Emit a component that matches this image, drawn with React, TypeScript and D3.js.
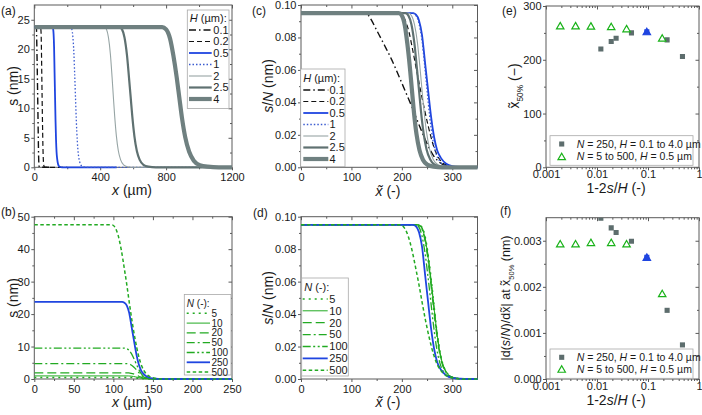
import * as d3 from "d3";
import { useEffect, useRef } from "react";

type Pt = [number, number];

// ---- profiles s/N (nm) vs x~ (-), H series at N = 250 (panels a, c)
const hLabels = ["0.1", "0.2", "0.5", "1", "2", "2.5", "4"];
const hValues = [0.1, 0.2, 0.5, 1, 2, 2.5, 4];
const profH01: Pt[] = [[0, 0.095], [128, 0.095], [134, 0.0935], [140, 0.0905], [150, 0.0845], [165, 0.0755], [180, 0.0662], [195, 0.0555], [206, 0.0475], [220, 0.0372], [235, 0.0255], [250, 0.0145], [262, 0.0075], [275, 0.003], [290, 0.0009], [305, 0.0002], [325, 0], [1000, 0]];
const profH02: Pt[] = [[0, 0.095], [190, 0.095], [198, 0.094], [206, 0.091], [214, 0.0835], [222, 0.0715], [230, 0.0585], [237, 0.0475], [245, 0.0355], [253, 0.0245], [261, 0.015], [270, 0.0075], [280, 0.003], [292, 0.001], [305, 0.0002], [320, 0], [1000, 0]];
const profH05: Pt[] = [[0, 0.095], [222, 0.095], [228, 0.094], [234, 0.0905], [240, 0.0815], [246, 0.0645], [252, 0.0475], [258, 0.031], [264, 0.0185], [270, 0.0105], [278, 0.0055], [288, 0.0022], [300, 0.0007], [315, 0.0002], [335, 0], [1000, 0]];
const profH1: Pt[] = [[0, 0.095], [222, 0.095], [228, 0.0935], [234, 0.0885], [240, 0.078], [245, 0.0635], [250, 0.0475], [255, 0.0318], [261, 0.0178], [267, 0.0092], [275, 0.0038], [285, 0.0012], [298, 0.0003], [315, 0], [1000, 0]];
const profH2: Pt[] = [[0, 0.095], [213, 0.095], [219, 0.0935], [225, 0.088], [231, 0.0765], [236, 0.0612], [240, 0.0475], [244, 0.0345], [249, 0.0215], [255, 0.0112], [262, 0.005], [271, 0.0017], [283, 0.0004], [300, 0], [1000, 0]];
const profH25: Pt[] = [[0, 0.095], [207, 0.095], [213, 0.0935], [219, 0.088], [225, 0.076], [230, 0.0605], [234, 0.0475], [238, 0.0343], [243, 0.0212], [249, 0.011], [256, 0.005], [265, 0.0016], [277, 0.0004], [295, 0], [1000, 0]];
const profH4: Pt[] = [[0, 0.095], [194, 0.095], [200, 0.0935], [206, 0.0872], [211, 0.0758], [216, 0.0612], [220, 0.0475], [224, 0.0338], [229, 0.0205], [235, 0.0105], [242, 0.0045], [251, 0.0015], [263, 0.0004], [280, 0], [1000, 0]];
const hProfiles = [profH01, profH02, profH05, profH1, profH2, profH25, profH4];

// ---- N series at H = 0.5 um (panels b, d)
const nLabels = ["5", "10", "20", "50", "100", "250", "500"];
const nValues = [5, 10, 20, 50, 100, 250, 500];
const profN5: Pt[] = [[0, 0.095], [233, 0.095], [240, 0.0935], [246, 0.088], [252, 0.077], [258, 0.062], [263, 0.0475], [268, 0.033], [274, 0.0195], [280, 0.0105], [288, 0.0045], [298, 0.0015], [312, 0.0003], [330, 0], [1000, 0]];
const profN10: Pt[] = [[0, 0.095], [232, 0.095], [239, 0.0935], [245, 0.088], [251, 0.0775], [257, 0.0625], [262.5, 0.0475], [268, 0.0325], [274, 0.019], [280, 0.0102], [288, 0.0043], [298, 0.0014], [312, 0.0003], [330, 0], [1000, 0]];
const profN20: Pt[] = [[0, 0.095], [232, 0.095], [239, 0.0935], [245, 0.0882], [251, 0.0778], [257, 0.0628], [262.5, 0.0475], [268, 0.0322], [274, 0.0188], [280, 0.01], [288, 0.0042], [298, 0.0014], [312, 0.0003], [330, 0], [1000, 0]];
const profN50: Pt[] = [[0, 0.095], [231, 0.095], [238, 0.0935], [244, 0.088], [250, 0.0775], [256, 0.0625], [261.5, 0.0475], [267, 0.0325], [273, 0.019], [279, 0.0102], [287, 0.0043], [297, 0.0014], [311, 0.0003], [330, 0], [1000, 0]];
const profN100: Pt[] = [[0, 0.095], [227, 0.095], [234, 0.0935], [240, 0.088], [246, 0.0775], [252, 0.0625], [257.5, 0.0475], [263, 0.0325], [269, 0.019], [275, 0.0102], [283, 0.0043], [293, 0.0014], [307, 0.0003], [325, 0], [1000, 0]];
const profN500: Pt[] = [[0, 0.095], [196, 0.095], [204, 0.0935], [212, 0.0885], [220, 0.0795], [228, 0.0675], [234, 0.058], [240, 0.0475], [247, 0.036], [255, 0.0245], [263, 0.015], [272, 0.0078], [283, 0.0032], [296, 0.0011], [312, 0.0002], [330, 0], [1000, 0]];
const nProfiles = [profN5, profN10, profN20, profN50, profN100, profH05, profN500];

// ---- panels e, f
const ratioH = [0.474, 0.237, 0.0948, 0.0474, 0.0237, 0.019, 0.0119];
const x50H = [206, 237, 252, 250, 240, 234, 220];
const slopeH = [0.00074, 0.00149, 0.00264, 0.00299, 0.00318, 0.00328, 0.00349];
const ratioN = [0.0019, 0.0038, 0.0076, 0.019, 0.038, 0.0948, 0.19];
const x50N = [263, 263, 262.5, 261.5, 257.5, 252, 240];
const slopeN = [0.00293, 0.00293, 0.00296, 0.00296, 0.00293, 0.00264, 0.00185];

const FONT = "'Liberation Sans', Arial, Helvetica, sans-serif";
const AX = "#5a5a5a";
const TXT = "#1a1a1a";
const BLUE = "#1f45e0";
const GREEN = "#22aa22";
const GRAY = "#5d6d6d";

const hStyles = [
  { c: "#111", w: 1.4, d: "7,3,1.5,3" },
  { c: "#111", w: 1.2, d: "5,3" },
  { c: BLUE, w: 1.8, d: "" },
  { c: "#3b5bd0", w: 1.3, d: "1.5,2" },
  { c: "#97a5a5", w: 1.1, d: "" },
  { c: "#5f7171", w: 2.2, d: "" },
  { c: "#6f8080", w: 4.2, d: "" },
];
const nStyles = [
  { c: GREEN, w: 1.5, d: "2,4" },
  { c: GREEN, w: 1, d: "" },
  { c: GREEN, w: 1.3, d: "9,4" },
  { c: GREEN, w: 1.3, d: "8,3,2,3" },
  { c: GREEN, w: 1.3, d: "8,2.5,2,2.5,2,2.5" },
  { c: BLUE, w: 1.8, d: "" },
  { c: GREEN, w: 1.5, d: "3.5,2.5" },
];

interface Box { l: number; r: number; t: number; b: number }
type Part = { t: string; i?: boolean; sub?: boolean };

function rich(sel: any, parts: Part[], size: number) {
  let wasSub = false;
  parts.forEach((p) => {
    const ts = sel.append("tspan").text(p.t);
    if (p.i) ts.attr("font-style", "italic");
    if (p.sub) ts.attr("font-size", size * 0.6).attr("dy", size * 0.28);
    else if (wasSub) ts.attr("dy", -size * 0.28);
    wasSub = !!p.sub;
  });
}

function axes(svg: any, bx: Box, x: any, y: any, xt: number[], xm: number[], yt: number[], ym: number[], xf: any, yf: any, xPad = 3) {
  const g = svg.append("g");
  const none = () => "";
  const put = (axis: any, tr: string, vals: number[], size: number, pad: number, fmt: any) => {
    const a = g.append("g").attr("transform", tr)
      .call(axis.tickValues(vals).tickSizeInner(size).tickSizeOuter(0).tickPadding(pad).tickFormat(fmt));
    a.select(".domain").remove();
    a.selectAll("line").attr("stroke", AX);
    a.selectAll("text").attr("font-family", FONT).attr("font-size", 11).attr("fill", TXT);
  };
  put(d3.axisBottom(x), `translate(0,${bx.b})`, xt, 3, xPad, xf);
  put(d3.axisBottom(x), `translate(0,${bx.b})`, xm, 2, 0, none);
  put(d3.axisTop(x), `translate(0,${bx.t})`, xt, -3.5, 0, none);
  put(d3.axisTop(x), `translate(0,${bx.t})`, xm, -2, 0, none);
  put(d3.axisLeft(y), `translate(${bx.l},0)`, yt, 3, 1.5, yf);
  put(d3.axisLeft(y), `translate(${bx.l},0)`, ym, 2, 0, none);
  put(d3.axisRight(y), `translate(${bx.r},0)`, yt, -3.5, 0, none);
  put(d3.axisRight(y), `translate(${bx.r},0)`, ym, -2, 0, none);
  g.append("rect").attr("x", bx.l).attr("y", bx.t).attr("width", bx.r - bx.l).attr("height", bx.b - bx.t)
    .attr("fill", "none").attr("stroke", AX).attr("stroke-width", 1);
}

function clip(svg: any, id: string, bx: Box, padY: number) {
  svg.append("clipPath").attr("id", id).append("rect")
    .attr("x", bx.l).attr("y", bx.t - padY).attr("width", bx.r - bx.l).attr("height", bx.b - bx.t + 2 * padY);
  return `url(#${id})`;
}

function curves(svg: any, clipUrl: string, x: any, y: any, data: Pt[][], styles: any[]) {
  const line = d3.line<Pt>().x((d) => x(d[0])).y((d) => y(d[1])).curve(d3.curveMonotoneX);
  const g = svg.append("g").attr("clip-path", clipUrl);
  data.forEach((pts, i) => {
    const s = styles[i];
    g.append("path").attr("d", line(pts)).attr("fill", "none").attr("stroke", s.c)
      .attr("stroke-width", s.w).attr("stroke-dasharray", s.d || null);
  });
}

function lineLegend(svg: any, box: number[], title: Part[], labels: string[], styles: any[], rows: number[], sx: number[], tx: number, fs = 11) {
  const g = svg.append("g");
  g.append("rect").attr("x", box[0]).attr("y", box[1]).attr("width", box[2] - box[0]).attr("height", box[3] - box[1])
    .attr("fill", "#fff").attr("stroke", "#a8a8a8").attr("stroke-width", 0.8);
  const t = g.append("text").attr("x", box[0] + 2.5).attr("y", rows[0]).attr("dy", "0.35em")
    .attr("font-family", FONT).attr("font-size", fs).attr("fill", TXT);
  rich(t, title, fs);
  const step = (rows[1] - rows[0]);
  labels.forEach((lab, i) => {
    const yy = rows[0] + step * (i + 1);
    const s = styles[i];
    g.append("line").attr("x1", sx[0]).attr("x2", sx[1]).attr("y1", yy).attr("y2", yy)
      .attr("stroke", s.c).attr("stroke-width", s.w).attr("stroke-dasharray", s.d || null);
    g.append("text").attr("x", tx).attr("y", yy).attr("dy", "0.35em").attr("font-family", FONT)
      .attr("font-size", fs).attr("fill", TXT).text(lab);
  });
}

function label(svg: any, x: number, y: number, parts: Part[], size: number, rotate = false) {
  const t = svg.append("text").attr("font-family", FONT).attr("font-size", size).attr("fill", TXT)
    .attr("text-anchor", "middle");
  if (rotate) t.attr("transform", `translate(${x},${y}) rotate(-90)`).attr("dy", "0.35em");
  else t.attr("x", x).attr("y", y);
  rich(t, parts, size);
}

export default function App() {
  const ref = useRef<SVGSVGElement>(null);

  useEffect(() => {
    const svg = d3.select(ref.current);
    svg.selectAll("*").remove();
    const intF = d3.format("d");

    // ---------- (a)
    const bA: Box = { l: 34.3, r: 232, t: 5, b: 167.3 };
    const xA = d3.scaleLinear().domain([0, 1200]).range([bA.l, bA.r]);
    const yA = d3.scaleLinear().domain([0, 27.5]).range([bA.b, bA.t]);
    axes(svg, bA, xA, yA, [0, 400, 800, 1200], [200, 600, 1000], [0, 5, 10, 15, 20, 25], [2.5, 7.5, 12.5, 17.5, 22.5], intF, intF);
    curves(svg, clip(svg, "ca", bA, 4), xA, yA,
      hProfiles.map((p, i) => p.map(([t, v]) => [t * hValues[i], v * 250] as Pt)), hStyles);
    lineLegend(svg, [187.3, 10, 229, 108.5], [{ t: "H", i: true }, { t: " (µm):" }], hLabels, hStyles,
      [18.5, 30], [189, 211.7], 213.3);

    // ---------- (b)
    const bB: Box = { l: 34.3, r: 232, t: 216.7, b: 379 };
    const xB = d3.scaleLinear().domain([0, 250]).range([bB.l, bB.r]);
    const yB = d3.scaleLinear().domain([0, 50]).range([bB.b, bB.t]);
    axes(svg, bB, xB, yB, [0, 50, 100, 150, 200, 250], [25, 75, 125, 175, 225], [0, 10, 20, 30, 40, 50], [5, 15, 25, 35, 45], intF, intF);
    curves(svg, clip(svg, "cb", bB, 4), xB, yB,
      nProfiles.map((p, i) => p.map(([t, v]) => [t * 0.5, v * nValues[i]] as Pt)), nStyles);
    lineLegend(svg, [184.3, 294.5, 231, 375], [{ t: "N", i: true }, { t: " (-):" }], nLabels, nStyles,
      [303.5, 313.3], [186.7, 210], 211.5, 10);

    // ---------- (c)
    const bC: Box = { l: 301, r: 477.5, t: 5, b: 167.3 };
    const xC = d3.scaleLinear().domain([0, 350]).range([bC.l, bC.r]);
    const yC = d3.scaleLinear().domain([0, 0.1]).range([bC.b, bC.t]);
    const f2 = d3.format(".2f");
    axes(svg, bC, xC, yC, [0, 100, 200, 300], [50, 150, 250], [0, 0.02, 0.04, 0.06, 0.08, 0.1], [0.01, 0.03, 0.05, 0.07, 0.09], intF, f2);
    curves(svg, clip(svg, "cc", bC, 4), xC, yC, hProfiles, hStyles);
    lineLegend(svg, [300.7, 69, 345, 166.7], [{ t: "H", i: true }, { t: " (µm):" }], hLabels, hStyles,
      [78.5, 90], [303.3, 328.3], 329.5);

    // ---------- (d)
    const bD: Box = { l: 301, r: 477.5, t: 216.7, b: 379 };
    const xD = d3.scaleLinear().domain([0, 350]).range([bD.l, bD.r]);
    const yD = d3.scaleLinear().domain([0, 0.1]).range([bD.b, bD.t]);
    axes(svg, bD, xD, yD, [0, 100, 200, 300], [50, 150, 250], [0, 0.02, 0.04, 0.06, 0.08, 0.1], [0.01, 0.03, 0.05, 0.07, 0.09], intF, f2);
    curves(svg, clip(svg, "cd", bD, 4), xD, yD, nProfiles, nStyles);
    lineLegend(svg, [301.7, 278, 348.3, 376], [{ t: "N", i: true }, { t: " (-):" }], nLabels, nStyles,
      [287, 298.9], [302.7, 327.7], 329.3);

    // ---------- (e), (f)
    const logMinor: number[] = [];
    [0.001, 0.01, 0.1].forEach((d) => { for (let k = 2; k <= 9; k++) logMinor.push(d * k); });
    const logF = (v: number) => d3.format("~g")(v);
    const bE: Box = { l: 546, r: 699, t: 6, b: 167.3 };
    const bF: Box = { l: 546, r: 699, t: 217.7, b: 379 };
    const xE = d3.scaleLog().domain([0.001, 1]).range([bE.l, bE.r]);
    const yE = d3.scaleLinear().domain([0, 300]).range([bE.b, bE.t]);
    const yF = d3.scaleLinear().domain([0, 0.0035]).range([bF.b, bF.t]);
    axes(svg, bE, xE, yE, [0.001, 0.01, 0.1, 1], logMinor, [0, 100, 200, 300], [50, 150, 250], logF, intF, 0);
    axes(svg, bF, xE, yF, [0.001, 0.01, 0.1, 1], logMinor, [0, 0.001, 0.002, 0.003], [0.0005, 0.0015, 0.0025], logF, d3.format(".3f"), 0);

    const sq = d3.symbol(d3.symbolSquare, 26)();
    const tri = d3.symbol(d3.symbolTriangle, 24)();
    const blueIdx = 2;
    const scatter = (bx: Box, id: string, y: any, hv: number[], nv: number[]) => {
      const g = svg.append("g").attr("clip-path", clip(svg, id, bx, 0));
      ratioH.forEach((r, i) => {
        g.append("path").attr("d", sq).attr("transform", `translate(${xE(r)},${y(hv[i])})`)
          .attr("fill", i === blueIdx ? BLUE : GRAY);
      });
      ratioN.forEach((r, i) => {
        const blue = i === 5;
        g.append("path").attr("d", tri).attr("transform", `translate(${xE(r)},${y(nv[i]) + 0.8})`)
          .attr("fill", blue ? BLUE : "#fff").attr("stroke", blue ? BLUE : "#19b219").attr("stroke-width", 1.2);
      });
    };
    scatter(bE, "ce", yE, x50H, x50N);
    scatter(bF, "cf", yF, slopeH, slopeN);

    const ptLegend = (box: number[], rows: number[]) => {
      const g = svg.append("g");
      g.append("rect").attr("x", box[0]).attr("y", box[1]).attr("width", box[2] - box[0]).attr("height", box[3] - box[1])
        .attr("fill", "#fff").attr("stroke", "#a8a8a8").attr("stroke-width", 0.8);
      g.append("path").attr("d", sq).attr("transform", `translate(561.7,${rows[0]})`).attr("fill", GRAY);
      g.append("path").attr("d", tri).attr("transform", `translate(561.7,${rows[1] + 0.8})`)
        .attr("fill", "#fff").attr("stroke", "#19b219").attr("stroke-width", 1.2);
      const t1 = g.append("text").attr("x", 576.7).attr("y", rows[0]).attr("dy", "0.35em")
        .attr("font-family", FONT).attr("font-size", 10.5).attr("fill", TXT);
      rich(t1, [{ t: "N", i: true }, { t: " = 250, " }, { t: "H", i: true }, { t: " = 0.1 to 4.0 µm" }], 10.5);
      const t2 = g.append("text").attr("x", 576.7).attr("y", rows[1]).attr("dy", "0.35em")
        .attr("font-family", FONT).attr("font-size", 10.5).attr("fill", TXT);
      rich(t2, [{ t: "N", i: true }, { t: " = 5 to 500, " }, { t: "H", i: true }, { t: " = 0.5 µm" }], 10.5);
    };
    ptLegend([550, 135.7, 693, 165.3], [144, 156.7]);
    ptLegend([550, 349, 693, 378.3], [357.3, 369.3]);

    // ---------- titles
    const xt = "x\u0303";
    label(svg, 132, 195, [{ t: "x", i: true }, { t: " (µm)" }], 14);
    label(svg, 132, 407, [{ t: "x", i: true }, { t: " (µm)" }], 14);
    label(svg, 13, 86, [{ t: "s (nm)" }], 14, true);
    label(svg, 13, 298, [{ t: "s (nm)" }], 14, true);
    label(svg, 388, 196, [{ t: xt, i: true }, { t: " (-)" }], 14);
    label(svg, 388, 407, [{ t: xt, i: true }, { t: " (-)" }], 14);
    label(svg, 268, 86, [{ t: "s", i: true }, { t: "/" }, { t: "N", i: true }, { t: " (nm)" }], 14, true);
    label(svg, 268, 298, [{ t: "s", i: true }, { t: "/" }, { t: "N", i: true }, { t: " (nm)" }], 14, true);
    label(svg, 616, 193, [{ t: "1-2" }, { t: "s", i: true }, { t: "/" }, { t: "H", i: true }, { t: " (-)" }], 14);
    label(svg, 616, 405, [{ t: "1-2" }, { t: "s", i: true }, { t: "/" }, { t: "H", i: true }, { t: "  (-)" }], 14);
    label(svg, 514, 86, [{ t: xt }, { t: "50%", sub: true }, { t: "  (−)" }], 14, true);
    label(svg, 506, 298, [{ t: "|d(" }, { t: "s", i: true }, { t: "/" }, { t: "N", i: true }, { t: ")/d" + xt + "| at " + xt },
      { t: "50%", sub: true }, { t: " (nm)" }], 12.5, true);

    const panelTag = (x: number, y: number, s: string) =>
      svg.append("text").attr("x", x).attr("y", y).attr("font-family", FONT).attr("font-size", 12).attr("fill", TXT).text(s);
    panelTag(1, 15, "(a)");
    panelTag(1, 216, "(b)");
    panelTag(252, 15, "(c)");
    panelTag(253, 217, "(d)");
    panelTag(502, 15, "(e)");
    panelTag(500, 215, "(f)");
  }, []);

  return (
    <svg ref={ref} width={702} height={415}
      style={{ position: "absolute", left: 0, top: 0, background: "#fff", display: "block" }} />
  );
}
